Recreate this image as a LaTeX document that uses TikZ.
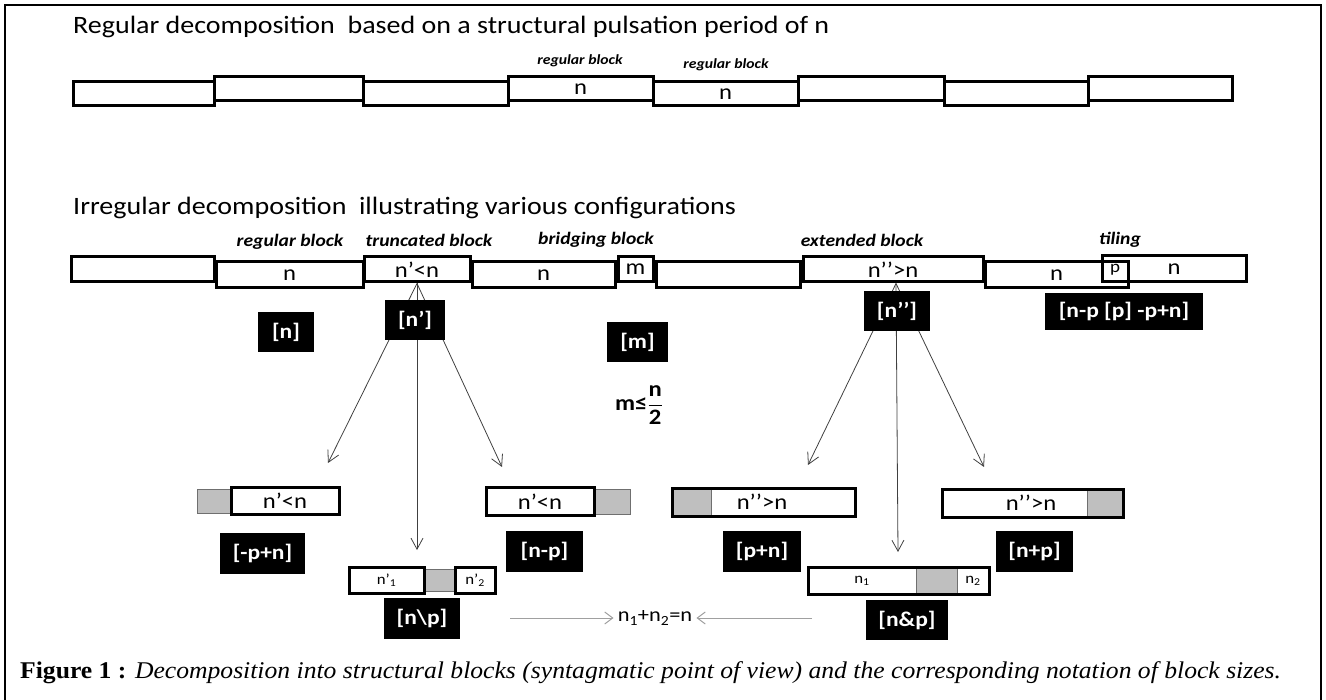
\documentclass[tikz,border=0pt]{standalone}
\usepackage{fontspec}
\setmainfont{Carlito}[FakeStretch=1.12]
\newfontfamily\capfont{Liberation Serif}[FakeStretch=1.068]
\usetikzlibrary{arrows.meta}
\definecolor{lgray}{HTML}{BFBFBF}
\definecolor{ggray}{HTML}{6F6F6F}
\definecolor{agray}{HTML}{404040}
\definecolor{hgray}{HTML}{A0A0A0}
\newcommand\fs[1]{\fontsize{#1}{#1}\selectfont}
\newcommand\bx[7][]{\node[#1,minimum width={#4-#2},minimum height={#5-#3}] (#6) at ({(#2+#4)/2},{(#3+#5)/2}) {#7};}
\begin{document}
\begin{tikzpicture}[x=1pt,y=-1pt,
  blk/.style={draw, line width=3pt, inner sep=0pt, font=\fs{22}},
  gry/.style={draw=ggray, line width=0.8pt, fill=lgray, inner sep=0pt},
  tag/.style={font=\fs{21}\bfseries, text=white, fill=black, inner sep=0pt},
  lab/.style={font=\fs{17.5}\bfseries\itshape, inner sep=0pt},
  ttl/.style={font=\fs{25}, inner sep=0pt, anchor=west},
  arr/.style={draw=agray, line width=0.8pt, -{Straight Barb[length=11pt,width=12pt]}},
  harr/.style={draw=hgray, line width=1pt, -{Straight Barb[length=8pt,width=12pt]}}]
\useasboundingbox (0,0) rectangle (1326,700);
\draw[line width=1.8pt] (5,702) -- (5,5) -- (1321,5) -- (1321,702);

% titles
\node[ttl] (t1) at (73,27) {Regular decomposition\ \ based on a structural pulsation period of n};
\node[ttl] (t2) at (73,208) {Irregular decomposition\ \ illustrating various configurations};

% row 1
\bx[blk]{73}{82}{214}{106}{A1}{}
\bx[blk]{214}{77}{363}{101}{B1}{}
\bx[blk]{363}{82}{508}{106}{C1}{}
\bx[blk]{508}{77}{653}{101}{D1}{n}
\bx[blk]{653}{82}{798}{106}{E1}{n}
\bx[blk]{798}{77}{944}{101}{F1}{}
\bx[blk]{944}{82}{1088}{106}{G1}{}
\bx[blk]{1088}{77}{1232}{101}{H1}{}
\node[lab, font=\fs{14}\bfseries\itshape] (lD1) at (580,61) {regular block};
\node[lab, font=\fs{14}\bfseries\itshape] (lE1) at (726,65) {regular block};

% row 2
\bx[blk]{71}{257}{214}{282}{A2}{}
\bx[blk]{216}{262}{363}{288}{B2}{n}
\bx[blk]{364}{257}{470}{282}{C2}{n’<n}
\bx[blk]{472}{262}{615}{288}{D2}{n}
\bx[blk]{618}{257}{653}{282}{E2}{m}
\bx[blk]{656}{262}{800}{288}{F2}{}
\bx[blk]{803}{257}{983}{282}{G2}{n’’>n}
\bx[blk]{985}{262}{1128}{288}{H2}{n}
\bx[blk]{1102}{256}{1246}{282}{U2}{n}
\node[font=\fs{17}, inner sep=0pt] (pp) at (1115,270) {p};
\node[lab] (lB2) at (290,242) {regular block};
\node[lab] (lC2) at (429,240) {truncated block};
\node[lab] (lE2) at (596,240) {bridging block};
\node[lab] (lG2) at (862,240) {extended block};
\node[lab] (lU2) at (1120,240) {tiling};

% fan arrows
\coordinate (a1) at (328,463);
\coordinate (a2) at (417,550);
\coordinate (a3) at (502,467);
\draw[arr] (C2.south) -- (a1);
\draw[arr] (C2.south) -- (a2);
\draw[arr] (C2.south) -- (a3);
\coordinate (g0) at ([xshift=3pt]G2.south);
\coordinate (b1) at (808,465);
\coordinate (b2) at (898,552);
\coordinate (b3) at (984,467);
\draw[arr] (g0) -- (b1);
\draw[arr] (g0) -- (b2);
\draw[arr] (g0) -- (b3);

% black tags
\bx[tag]{258}{312}{314}{352}{tn}{[n]}
\bx[tag]{385}{300}{445}{340}{tnp}{[n’]}
\bx[tag]{607}{322}{668}{362}{tm}{[m]}
\bx[tag]{864}{291}{930}{331}{tnpp}{[n’’]}
\bx[tag]{1045}{293}{1203}{330}{ttile}{[n-p [p] -p+n]}
\bx[tag]{220}{533}{305}{574}{tmpn}{[-p+n]}
\bx[tag]{506}{531}{583}{572}{tnmp}{[n-p]}
\bx[tag]{384}{598}{460}{639}{tnbp}{[n\textbackslash p]}
\bx[tag]{723}{531}{801}{572}{tppn}{[p+n]}
\bx[tag]{996}{531}{1073}{572}{tnpl}{[n+p]}
\bx[tag]{866}{600}{948}{640}{tnap}{[n\&p]}

\node[font=\fs{22}\bfseries, inner sep=0pt] (mle) at (639,405) {m≤$\displaystyle\frac{\textbf{n}}{\textbf{2}}$};

% lower blocks, truncated
\bx[gry]{197}{489}{231}{513}{LLg}{}
\bx[blk]{231}{488}{339}{514}{LL}{n’<n}
\bx[gry]{594}{489}{630}{514}{LRg}{}
\bx[blk]{486}{488}{594}{515}{LR}{n’<n}
\bx[gry]{424}{569}{455}{591}{Sg}{}
\bx[blk,font=\fs{15}]{349}{567}{424}{593}{S1}{n’\textsubscript{1}}
\bx[blk,font=\fs{15}]{455}{567}{495}{593}{S2}{n’\textsubscript{2}}

% lower blocks, extended
\bx[gry]{672}{489}{711}{516}{RLg}{}
\bx[blk]{672}{489}{855}{516}{RL}{}
\node[font=\fs{22}, inner sep=0pt] (RLt) at (762,502) {n’’>n};
\bx[gry]{1087}{490}{1123}{517}{RRg}{}
\bx[blk]{942}{490}{1123}{517}{RR}{}
\node[font=\fs{22}, inner sep=0pt] (RRt) at (1031,503) {n’’>n};
\bx[gry]{916}{568}{957}{594}{Tg}{}
\bx[font=\fs{15}, inner sep=0pt]{808}{568}{916}{594}{T1}{n\textsubscript{1}}
\bx[font=\fs{15}, inner sep=0pt]{957}{568}{989}{594}{T2}{n\textsubscript{2}}
\bx[blk]{808}{567}{989}{594}{T}{}

% sum
\node[font=\fs{20}, inner sep=4pt] (sum) at (655,618) {n\textsubscript{1}+n\textsubscript{2}=n};
\coordinate (h1) at (510,618);
\coordinate (h2) at (812,618);
\draw[harr] (h1) -- (sum.west);
\draw[harr] (h2) -- (sum.east);

% caption
\node[anchor=west, inner sep=0pt, font=\capfont\fs{24}] (cap) at (20,673) {\textbf{Figure 1 :} \textit{Decomposition into structural blocks (syntagmatic point of view) and the corresponding notation of block sizes.}};
\end{tikzpicture}
\end{document}
